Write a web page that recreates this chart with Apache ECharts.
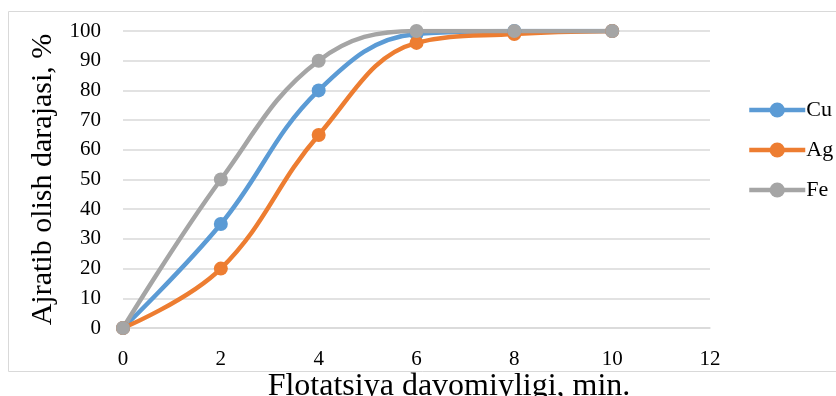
<!DOCTYPE html>
<html><head><meta charset="utf-8">
<script src="https://cdn.jsdelivr.net/npm/echarts@6/dist/echarts.min.js"></script>
<style>html,body{margin:0;padding:0;background:#fff}#c{width:836px;height:396px}</style>
</head><body><div id="c"></div>
<script>
const xValues = [0, 2, 4, 6, 8, 10];
const cu = [0, 35, 80, 99, 100, 100];
const ag = [0, 20, 65, 96, 99, 100];
const fe = [0, 50, 90, 100, 100, 100];
const seriesNames = ['Cu', 'Ag', 'Fe'];
const colors = ['#5b9bd5', '#ed7d31', '#a5a5a5'];
const xTitle = 'Flotatsiya davomiyligi, min.';
const yTitle = 'Ajratib olish darajasi, %';

const font = '"Liberation Serif", "Times New Roman", serif';
function pairs(vals){ return xValues.map((x,i)=>[x, vals[i]]); }
const chart = echarts.init(document.getElementById('c'));
chart.setOption({
  animation: false,
  textStyle: {fontFamily: font},
  title: {text: xTitle, left: 449, textAlign:'center', top: 371, padding:0,
    textStyle:{fontFamily:font, fontSize:32, fontWeight:'normal', color:'#000'}},
  graphic: [{type:'rect', shape:{x:8.5, y:11.5, width:840, height:360}, style:{fill:'none', stroke:'#d9d9d9', lineWidth:1}, z:-1}],
  grid: {left:123, right:126, top:31, bottom:68, containLabel:false, outerBoundsMode:'none'},
  legend: {
    orient:'vertical', left:742, top:94, itemWidth:56, itemHeight:19, itemGap:18,
    lineStyle:{width:4.5},
    textStyle:{fontFamily:font, fontSize:22, color:'#000', padding:[0,0,0,-4]},
    data: seriesNames
  },
  xAxis: {
    type:'value', min:0, max:12, interval:2,
    axisLine:{show:true, lineStyle:{color:'#d9d9d9', width:1.5}},
    axisTick:{show:false},
    axisLabel:{fontFamily:font, fontSize:21, color:'#000', margin:21},
    splitLine:{show:false}
  },
  yAxis: {
    type:'value', min:0, max:100, interval:10,
    name: yTitle, nameLocation:'middle', nameGap:64,
    nameTextStyle:{fontFamily:font, fontSize:30, color:'#000'},
    axisLine:{show:false}, axisTick:{show:false},
    axisLabel:{fontFamily:font, fontSize:21, color:'#000', margin:22},
    splitLine:{lineStyle:{color:'#d9d9d9', width:1.5}}
  },
  series: [cu, ag, fe].map((d,i)=>({
    name: seriesNames[i], type:'line', data: pairs(d), smooth:0.4,
    symbol:'circle', symbolSize:14, color: colors[i],
    lineStyle:{width:4.5, color: colors[i]}, itemStyle:{color: colors[i]}
  }))
});
</script></body></html>
